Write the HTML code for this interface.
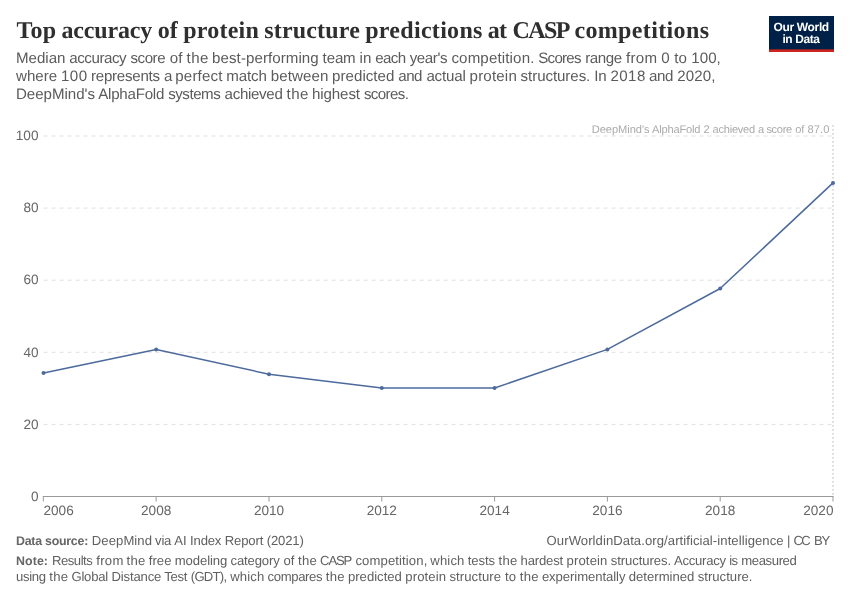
<!DOCTYPE html>
<html lang="en">
<head>
<meta charset="utf-8">
<title>Top accuracy of protein structure predictions at CASP competitions</title>
<style>
html,body{margin:0;padding:0;background:#fff;}
body{width:850px;height:600px;overflow:hidden;}
svg{display:block;}
text{font-family:"Liberation Sans",sans-serif;text-rendering:geometricPrecision;}
.title{font-family:"Liberation Serif",serif;font-weight:700;font-size:24px;fill:#2f2f2f;}
.sub{font-size:15.1px;fill:#5b5b5b;}
.tick{font-size:13.6px;fill:#666;}
.foot{font-size:13.1px;fill:#606060;}
.fb{font-size:12.4px;font-weight:700;fill:#666;}
.ann{font-size:11.1px;fill:#aaa;}
.logo{font-weight:700;font-size:12px;fill:#fff;}
</style>
</head>
<body>
<svg width="850" height="600" viewBox="0 0 850 600">
<rect width="850" height="600" fill="#fff"/>

<!-- header -->
<text class="title" y="38"><tspan x="16.4" textLength="39.6">Top</tspan> <tspan x="61.4" textLength="90.8">accuracy</tspan> <tspan x="157.7">of</tspan> <tspan x="183.2" textLength="75.6">protein</tspan> <tspan x="264.2" textLength="95.6">structure</tspan> <tspan x="365.2" textLength="117.2">predictions</tspan> <tspan x="487.8" textLength="19.2">at</tspan> <tspan x="512.4" textLength="56.6">CASP</tspan> <tspan x="574.4" textLength="134.6">competitions</tspan></text>
<text class="sub" y="63"><tspan x="16.0" textLength="49.5">Median</tspan> <tspan x="69.3" textLength="57.3">accuracy</tspan> <tspan x="130.5" textLength="35.1">score</tspan> <tspan x="169.8">of</tspan> <tspan x="186.6" textLength="21.7">the</tspan> <tspan x="212.1" textLength="106.6">best-performing</tspan> <tspan x="322.6" textLength="33.1">team</tspan> <tspan x="359.6">in</tspan> <tspan x="375.3" textLength="30.9">each</tspan> <tspan x="409.7" textLength="37.8">year's</tspan> <tspan x="451.4" textLength="83.0">competition.</tspan> <tspan x="538.3" textLength="43.2">Scores</tspan> <tspan x="585.3" textLength="36.8">range</tspan> <tspan x="625.9" textLength="31.3">from</tspan> <tspan x="661.2">0</tspan> <tspan x="674.2">to</tspan> <tspan x="691.3" textLength="29.5">100,</tspan></text>
<text class="sub" y="81"><tspan x="16.0" textLength="41.2">where</tspan> <tspan x="61.0" textLength="26.1">100</tspan> <tspan x="91.0" textLength="69.1">represents</tspan> <tspan x="163.9" textLength="7.5">a</tspan> <tspan x="175.2" textLength="47.3">perfect</tspan> <tspan x="226.3" textLength="40.6">match</tspan> <tspan x="270.8" textLength="57.5">between</tspan> <tspan x="332.1" textLength="62.3">predicted</tspan> <tspan x="398.3" textLength="24.2">and</tspan> <tspan x="426.4" textLength="39.4">actual</tspan> <tspan x="469.6" textLength="47.2">protein</tspan> <tspan x="520.6" textLength="69.7">structures.</tspan> <tspan x="594.2" textLength="12.5">In</tspan> <tspan x="610.5" textLength="34.8">2018</tspan> <tspan x="649.1" textLength="24.2">and</tspan> <tspan x="677.2" textLength="38.2">2020,</tspan></text>
<text class="sub" y="99"><tspan x="16.0" textLength="79.0">DeepMind's</tspan> <tspan x="98.3" textLength="66.0">AlphaFold</tspan> <tspan x="168.2" textLength="52.5">systems</tspan> <tspan x="224.6" textLength="58.2">achieved</tspan> <tspan x="286.6" textLength="21.7">the</tspan> <tspan x="312.1" textLength="47.9">highest</tspan> <tspan x="363.9" textLength="45.1">scores.</tspan></text>

<!-- logo -->
<rect x="769" y="16" width="65" height="36" fill="#002147"/>
<rect x="769" y="49.4" width="65" height="2.6" fill="#ce261e"/>
<text class="logo" x="773.6" y="30.7" textLength="55.6" lengthAdjust="spacing">Our World</text>
<text class="logo" x="782.4" y="42.7" textLength="37.6" lengthAdjust="spacing">in Data</text>

<!-- grid -->
<g stroke="#e1e1e1" stroke-width="1" stroke-dasharray="4 4" fill="none">
<line x1="43.6" x2="833" y1="136" y2="136"/>
<line x1="43.6" x2="833" y1="208.1" y2="208.1"/>
<line x1="43.6" x2="833" y1="280.2" y2="280.2"/>
<line x1="43.6" x2="833" y1="352.3" y2="352.3"/>
<line x1="43.6" x2="833" y1="424.4" y2="424.4"/>
</g>
<!-- annotation vertical dotted line -->
<line x1="833" x2="833" y1="125.3" y2="496" stroke="#d2d2d2" stroke-width="2" stroke-dasharray="1.3 2.7"/>
<text class="ann" y="133"><tspan x="591.7" textLength="57.9">DeepMind's</tspan> <tspan x="652.1" textLength="48.4">AlphaFold</tspan> <tspan x="703.4">2</tspan> <tspan x="712.5" textLength="42.7">achieved</tspan> <tspan x="758.1" textLength="5.5">a</tspan> <tspan x="766.4" textLength="25.8">score</tspan> <tspan x="795.2">of</tspan> <tspan x="807.5" textLength="21.8">87.0</tspan></text>

<!-- y labels -->
<g class="tick" text-anchor="end">
<text x="38.5" y="140">100</text>
<text x="38.5" y="212">80</text>
<text x="38.5" y="284">60</text>
<text x="38.5" y="357">40</text>
<text x="38.5" y="429">20</text>
<text x="38.5" y="501">0</text>
</g>

<!-- x axis -->
<g stroke="#999" stroke-width="1" fill="none">
<line x1="42.8" x2="833.5" y1="496.5" y2="496.5"/>
<line x1="43.3" x2="43.3" y1="496.5" y2="501.5"/>
<line x1="156.1" x2="156.1" y1="496.5" y2="501.5"/>
<line x1="269" x2="269" y1="496.5" y2="501.5"/>
<line x1="381.8" x2="381.8" y1="496.5" y2="501.5"/>
<line x1="494.6" x2="494.6" y1="496.5" y2="501.5"/>
<line x1="607.4" x2="607.4" y1="496.5" y2="501.5"/>
<line x1="720.2" x2="720.2" y1="496.5" y2="501.5"/>
<line x1="833" x2="833" y1="496.5" y2="501.5"/>
</g>
<g class="tick" text-anchor="middle">
<text x="43.5" y="515" text-anchor="start">2006</text>
<text x="156.2" y="515">2008</text>
<text x="269" y="515">2010</text>
<text x="381.8" y="515">2012</text>
<text x="494.6" y="515">2014</text>
<text x="607.4" y="515">2016</text>
<text x="720.2" y="515">2018</text>
<text x="833.5" y="515" text-anchor="end">2020</text>
</g>

<!-- data line -->
<polyline fill="none" stroke="#4c6a9c" stroke-width="1.5" stroke-linejoin="round" stroke-linecap="round"
 points="43.5,373 156.2,349.4 269,374.2 381.8,388 494.6,388 607.4,349.4 720.2,288.5 833,182.9"/>
<g fill="#4c6a9c">
<circle cx="43.5" cy="373" r="2"/>
<circle cx="156.2" cy="349.4" r="2"/>
<circle cx="269" cy="374.2" r="2"/>
<circle cx="381.8" cy="388" r="2"/>
<circle cx="494.6" cy="388" r="2"/>
<circle cx="607.4" cy="349.4" r="2"/>
<circle cx="720.2" cy="288.5" r="2"/>
<circle cx="833" cy="182.9" r="2"/>
</g>

<!-- footer -->
<text class="foot fb" x="16" y="545" textLength="72.3" lengthAdjust="spacing">Data source:</text>
<text class="foot" y="545"><tspan x="91.8" textLength="60.2">DeepMind</tspan> <tspan x="155.1" textLength="16.3">via</tspan> <tspan x="174.3">AI</tspan> <tspan x="190.1" textLength="31.3">Index</tspan> <tspan x="224.7" textLength="38.6">Report</tspan> <tspan x="266.7" textLength="37.1">(2021)</tspan></text>
<text class="foot" y="545"><tspan x="546.6" textLength="237.0">OurWorldinData.org/artificial-intelligence</tspan> <tspan x="787.0" textLength="3.3">|</tspan> <tspan x="793.6" textLength="17.2">CC</tspan> <tspan x="814.1" textLength="16.2">BY</tspan></text>
<text class="foot fb" x="16" y="565" textLength="32" lengthAdjust="spacing">Note:</text>
<text class="foot" y="565"><tspan x="52.0" textLength="40.8">Results</tspan> <tspan x="96.2" textLength="27.1">from</tspan> <tspan x="126.6" textLength="18.8">the</tspan> <tspan x="148.7" textLength="22.8">free</tspan> <tspan x="174.8" textLength="52.4">modeling</tspan> <tspan x="230.5" textLength="49.2">category</tspan> <tspan x="283.4">of</tspan> <tspan x="298.0" textLength="18.8">the</tspan> <tspan x="320.1" textLength="32.0">CASP</tspan> <tspan x="355.4" textLength="71.9">competition,</tspan> <tspan x="430.3" textLength="34.1">which</tspan> <tspan x="467.7" textLength="27.4">tests</tspan> <tspan x="498.5" textLength="18.8">the</tspan> <tspan x="520.6" textLength="42.6">hardest</tspan> <tspan x="566.5" textLength="40.9">protein</tspan> <tspan x="610.7" textLength="60.4">structures.</tspan> <tspan x="674.1" textLength="51.9">Accuracy</tspan> <tspan x="729.2" textLength="8.8">is</tspan> <tspan x="741.3" textLength="55.5">measured</tspan></text>
<text class="foot" y="581"><tspan x="16.0" textLength="30.0">using</tspan> <tspan x="49.3" textLength="18.8">the</tspan> <tspan x="71.5" textLength="36.7">Global</tspan> <tspan x="111.5" textLength="49.8">Distance</tspan> <tspan x="164.3" textLength="23.2">Test</tspan> <tspan x="190.8" textLength="36.3">(GDT),</tspan> <tspan x="230.2" textLength="34.1">which</tspan> <tspan x="267.6" textLength="54.9">compares</tspan> <tspan x="325.8" textLength="18.8">the</tspan> <tspan x="347.9" textLength="54.0">predicted</tspan> <tspan x="405.2" textLength="40.9">protein</tspan> <tspan x="449.4" textLength="51.7">structure</tspan> <tspan x="505.0">to</tspan> <tspan x="519.8" textLength="18.8">the</tspan> <tspan x="541.9" textLength="83.6">experimentally</tspan> <tspan x="628.8" textLength="65.5">determined</tspan> <tspan x="697.7" textLength="54.8">structure.</tspan></text>
</svg>
</body>
</html>
